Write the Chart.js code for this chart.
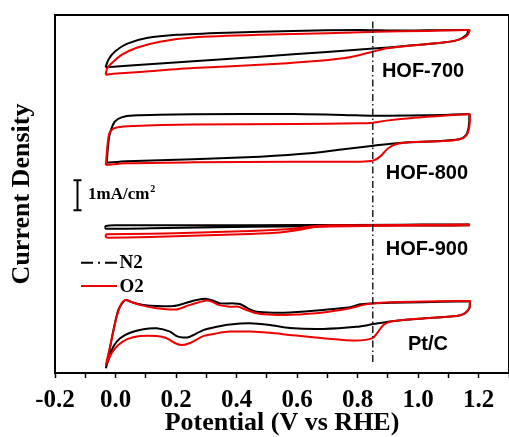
<!DOCTYPE html>
<html>
<head>
<meta charset="utf-8">
<script src="https://cdn.jsdelivr.net/npm/chart.js@4.4.1/dist/chart.umd.min.js"></script>
<style>
    html, body { margin: 0; padding: 0; background: #fff; }
    #wrap { width: 509px; height: 437px; }
</style>
</head>
<body>
<div id="wrap"><canvas id="cvChart" width="509" height="437"></canvas></div>
<script>
// Potential in V vs RHE, current density in mA/cm2 (curves stacked with offsets)
const sampleNames = ['HOF-700', 'HOF-800', 'HOF-900', 'Pt/C'];
const gasNames = ['N2', 'O2'];

const hof700N2X = [-0.033, -0.024, -0.002, 0.037, 0.103, 0.202, 0.367, 0.587, 0.808, 0.918, 1.028, 1.165,
    1.165, 1.160, 1.132, 1.083, 0.973, 0.852, 0.698, 0.477, 0.257, 0.037, -0.029, -0.033];
const hof700N2Y = [10.18, 10.43, 10.71, 10.97, 11.16, 11.27, 11.34, 11.40, 11.43, 11.41, 11.42, 11.43,
    11.41, 11.27, 11.10, 11.01, 10.91, 10.81, 10.70, 10.54, 10.39, 10.24, 10.19, 10.18];
const hof700O2X = [-0.033, -0.027, -0.013, 0.020, 0.070, 0.147, 0.257, 0.477, 0.698, 0.863, 1.028, 1.169,
    1.169, 1.160, 1.132, 1.083, 0.973, 0.896, 0.852, 0.808, 0.752, 0.642, 0.477, 0.257, 0.092, -0.007, -0.033];
const hof700O2Y = [9.94, 10.16, 10.32, 10.60, 10.84, 11.04, 11.18, 11.27, 11.32, 11.37, 11.40, 11.43,
    11.38, 11.23, 11.10, 11.01, 10.91, 10.82, 10.71, 10.60, 10.49, 10.38, 10.27, 10.16, 10.04, 9.97, 9.94];

const hof800N2X = [-0.029, -0.026, -0.021, -0.013, -0.002, 0.020, 0.059, 0.257, 0.587, 0.753, 0.852, 0.973, 1.083, 1.166,
    1.169, 1.167, 1.158, 1.138, 1.083, 0.973, 0.929, 0.852, 0.753, 0.642, 0.477, 0.257, 0.037, -0.029];
const hof800N2Y = [7.01, 7.43, 7.88, 8.16, 8.38, 8.52, 8.58, 8.62, 8.63, 8.60, 8.57, 8.58, 8.60, 8.63,
    8.60, 8.21, 7.93, 7.80, 7.74, 7.69, 7.66, 7.57, 7.46, 7.32, 7.21, 7.12, 7.06, 7.01];
const hof800O2X = [-0.032, -0.028, -0.022, -0.013, 0.004, 0.059, 0.257, 0.587, 0.808, 0.852, 0.896, 0.973, 1.083, 1.169,
    1.171, 1.169, 1.160, 1.138, 1.083, 0.973, 0.929, 0.901, 0.874, 0.852, 0.808, 0.587, 0.257, 0.037, -0.032];
const hof800O2Y = [6.93, 7.43, 7.93, 8.10, 8.18, 8.23, 8.28, 8.30, 8.32, 8.34, 8.41, 8.49, 8.57, 8.63,
    8.60, 8.21, 7.93, 7.79, 7.73, 7.69, 7.63, 7.49, 7.21, 7.08, 7.04, 7.04, 7.02, 6.99, 6.93];

const hof900N2X = [-0.035, -0.032, -0.002, 0.279, 0.609, 0.940, 1.168,
    1.168, 0.940, 0.675, 0.444, 0.114, -0.032, -0.035];
const hof900N2Y = [4.85, 4.90, 4.92, 4.92, 4.93, 4.94, 4.95,
    4.92, 4.92, 4.90, 4.87, 4.82, 4.81, 4.85];
const hof900O2X = [-0.032, 0.114, 0.279, 0.444, 0.576, 0.642, 0.709, 0.940, 1.168,
    1.168, 0.940, 0.709, 0.649, 0.609, 0.543, 0.444, 0.279, 0.114, -0.025, -0.032, -0.032];
const hof900O2Y = [4.62, 4.64, 4.68, 4.73, 4.80, 4.88, 4.92, 4.93, 4.95,
    4.92, 4.91, 4.88, 4.85, 4.77, 4.68, 4.63, 4.58, 4.53, 4.51, 4.53, 4.62];

const ptcN2X = [-0.032, -0.024, -0.007, 0.009, 0.026, 0.037, 0.059, 0.092, 0.136, 0.191, 0.235, 0.268, 0.301, 0.323,
    0.345, 0.389, 0.411, 0.444, 0.466, 0.521, 0.576, 0.686, 0.775, 0.808, 0.846, 0.907, 1.017, 1.127, 1.171,
    1.171, 1.169, 1.154, 1.127, 1.017, 0.951, 0.907, 0.852, 0.797, 0.686, 0.576, 0.510, 0.444, 0.378, 0.334,
    0.290, 0.246, 0.224, 0.202, 0.180, 0.136, 0.092, 0.048, 0.015, -0.007, -0.024, -0.032];
const ptcN2Y = [0.16, 0.54, 1.43, 2.10, 2.38, 2.43, 2.34, 2.27, 2.23, 2.23, 2.34, 2.43, 2.47, 2.41,
    2.32, 2.32, 2.30, 2.12, 2.04, 2.01, 2.02, 2.10, 2.19, 2.29, 2.32, 2.34, 2.36, 2.38, 2.38,
    2.36, 2.16, 1.99, 1.90, 1.82, 1.77, 1.72, 1.63, 1.54, 1.47, 1.50, 1.60, 1.66, 1.62, 1.54,
    1.43, 1.21, 1.18, 1.23, 1.38, 1.49, 1.46, 1.34, 1.16, 0.88, 0.43, 0.16];
const ptcO2X = [-0.032, -0.018, 0.004, 0.020, 0.031, 0.042, 0.081, 0.136, 0.202, 0.246, 0.296, 0.318, 0.340, 0.378,
    0.406, 0.433, 0.466, 0.521, 0.576, 0.686, 0.775, 0.819, 0.846, 0.907, 1.017, 1.127, 1.171,
    1.171, 1.169, 1.154, 1.127, 1.017, 0.951, 0.907, 0.885, 0.868, 0.849, 0.797, 0.686, 0.576, 0.510, 0.444,
    0.378, 0.334, 0.290, 0.246, 0.218, 0.196, 0.169, 0.136, 0.081, 0.037, 0.009, -0.013, -0.029, -0.032];
const ptcO2Y = [0.27, 0.88, 1.88, 2.32, 2.43, 2.41, 2.27, 2.16, 2.12, 2.27, 2.41, 2.38, 2.27, 2.21,
    2.21, 2.10, 1.99, 1.94, 1.94, 2.02, 2.16, 2.27, 2.32, 2.36, 2.38, 2.40, 2.40,
    2.38, 2.16, 1.99, 1.90, 1.82, 1.77, 1.71, 1.60, 1.38, 1.16, 1.08, 1.16, 1.27, 1.34, 1.38,
    1.38, 1.32, 1.23, 1.00, 0.93, 1.00, 1.16, 1.23, 1.23, 1.12, 0.93, 0.66, 0.32, 0.27];

// onset marker line at 0.85 V
const markerX = [0.85, 0.85];
const markerY = [0.37, 11.77];

const serif = "'Liberation Serif', 'Times New Roman', serif";
const sans = "'Liberation Sans', Arial, sans-serif";
const black = '#000000';
const red = '#ec0000';

function toPoints(xs, ys) {
    return xs.map((v, i) => ({ x: v, y: ys[i] }));
}

function curve(xs, ys, color, order) {
    return {
        data: toPoints(xs, ys),
        showLine: true,
        borderColor: color,
        borderWidth: 2,
        pointRadius: 0,
        tension: 0.25,
        fill: false,
        order: order
    };
}

const datasets = [
    curve(hof700N2X, hof700N2Y, black, 2),
    curve(hof800N2X, hof800N2Y, black, 2),
    curve(hof900N2X, hof900N2Y, black, 2),
    curve(ptcN2X, ptcN2Y, black, 2),
    curve(hof700O2X, hof700O2Y, red, 1),
    curve(hof800O2X, hof800O2Y, red, 1),
    curve(hof900O2X, hof900O2Y, red, 1),
    curve(ptcO2X, ptcO2Y, red, 1),
    {
        data: toPoints(markerX, markerY),
        showLine: true,
        borderColor: black,
        borderWidth: 1.3,
        borderDash: [7, 3, 1.5, 3],
        pointRadius: 0,
        order: 0
    }
];

// frame, sample names, scale bar and legend
const decorations = {
    id: 'decorations',
    afterDraw(chart) {
        const { ctx, chartArea: a, scales: { x, y } } = chart;
        ctx.save();
        ctx.strokeStyle = black;
        ctx.lineWidth = 2;
        ctx.strokeRect(a.left, a.top, a.right - a.left, a.bottom - a.top);

        ctx.fillStyle = black;
        ctx.textBaseline = 'alphabetic';
        ctx.textAlign = 'left';
        ctx.font = 'bold 20px ' + sans;
        const labelPos = [[0.880, 9.87], [0.893, 6.47], [0.893, 3.93], [0.966, 0.77]];
        sampleNames.forEach((name, i) => {
            ctx.fillText(name, x.getPixelForValue(labelPos[i][0]), y.getPixelForValue(labelPos[i][1]));
        });

        // 1 mA/cm2 scale bar
        const bx = Math.round(x.getPixelForValue(-0.127)) + 0.5;
        const b1 = y.getPixelForValue(6.42);
        const b2 = y.getPixelForValue(5.42);
        ctx.lineWidth = 2;
        ctx.beginPath();
        ctx.moveTo(bx, b1); ctx.lineTo(bx, b2);
        ctx.moveTo(bx - 4, b1); ctx.lineTo(bx + 4, b1);
        ctx.moveTo(bx - 4, b2); ctx.lineTo(bx + 4, b2);
        ctx.stroke();
        ctx.font = 'bold 17px ' + serif;
        const tx = x.getPixelForValue(-0.091);
        const ty = y.getPixelForValue(5.8);
        ctx.fillText('1mA/cm', tx, ty);
        const w = ctx.measureText('1mA/cm').width;
        ctx.font = 'bold 10px ' + serif;
        ctx.fillText('2', tx + w + 1, ty - 7);

        // legend
        const lx1 = x.getPixelForValue(-0.114);
        const lx2 = x.getPixelForValue(0.005);
        const legendY = [[3.67, 3.50], [2.90, 2.70]];
        const legendDash = [[12, 5, 2, 5], []];
        const legendColor = [black, red];
        ctx.font = 'bold 19px ' + serif;
        gasNames.forEach((g, i) => {
            const ly = y.getPixelForValue(legendY[i][0]);
            ctx.strokeStyle = legendColor[i];
            ctx.lineWidth = 2;
            ctx.setLineDash(legendDash[i]);
            ctx.beginPath();
            ctx.moveTo(lx1, ly); ctx.lineTo(lx2, ly);
            ctx.stroke();
            ctx.setLineDash([]);
            ctx.fillText(g, x.getPixelForValue(0.013), y.getPixelForValue(legendY[i][1]));
        });
        ctx.restore();
    }
};

new Chart(document.getElementById('cvChart').getContext('2d'), {
    type: 'scatter',
    data: { datasets: datasets },
    options: {
        responsive: false,
        animation: false,
        layout: { padding: { top: 15, right: 0, left: 0, bottom: 0 } },
        plugins: {
            legend: { display: false },
            tooltip: { enabled: false }
        },
        scales: {
            x: {
                type: 'linear',
                min: -0.2,
                max: 1.3,
                afterFit: scale => {
                    scale.height = 64;
                    scale.paddingLeft = 0;
                    scale.paddingRight = 0;
                },
                border: { display: true, color: black, width: 2 },
                grid: { display: true, drawOnChartArea: false, drawTicks: true, tickLength: 5, tickColor: black, tickWidth: 1.5 },
                ticks: {
                    stepSize: 0.1,
                    autoSkip: false,
                    maxRotation: 0,
                    padding: 8,
                    color: black,
                    font: { family: serif, size: 25, weight: 'bold' },
                    callback: v => {
                        if (Math.round(v * 10) % 2 !== 0) return '';
                        return Math.abs(v) < 1e-9 ? '0.0' : v.toFixed(1);
                    }
                },
                title: {
                    display: true,
                    text: 'Potential (V vs RHE)',
                    color: black,
                    font: { family: serif, size: 26, weight: 'bold', lineHeight: 1.05 },
                    padding: { top: 0, bottom: 0 }
                }
            },
            y: {
                type: 'linear',
                min: 0,
                max: 11.93,
                afterFit: scale => { scale.width = 55; },
                border: { display: true, color: black, width: 2 },
                grid: { display: false },
                ticks: { display: false },
                title: {
                    display: true,
                    text: 'Current Density',
                    color: black,
                    font: { family: serif, size: 26, weight: 'bold' },
                    padding: { top: 7, bottom: 0 }
                }
            }
        }
    },
    plugins: [decorations]
});
</script>
</body>
</html>
